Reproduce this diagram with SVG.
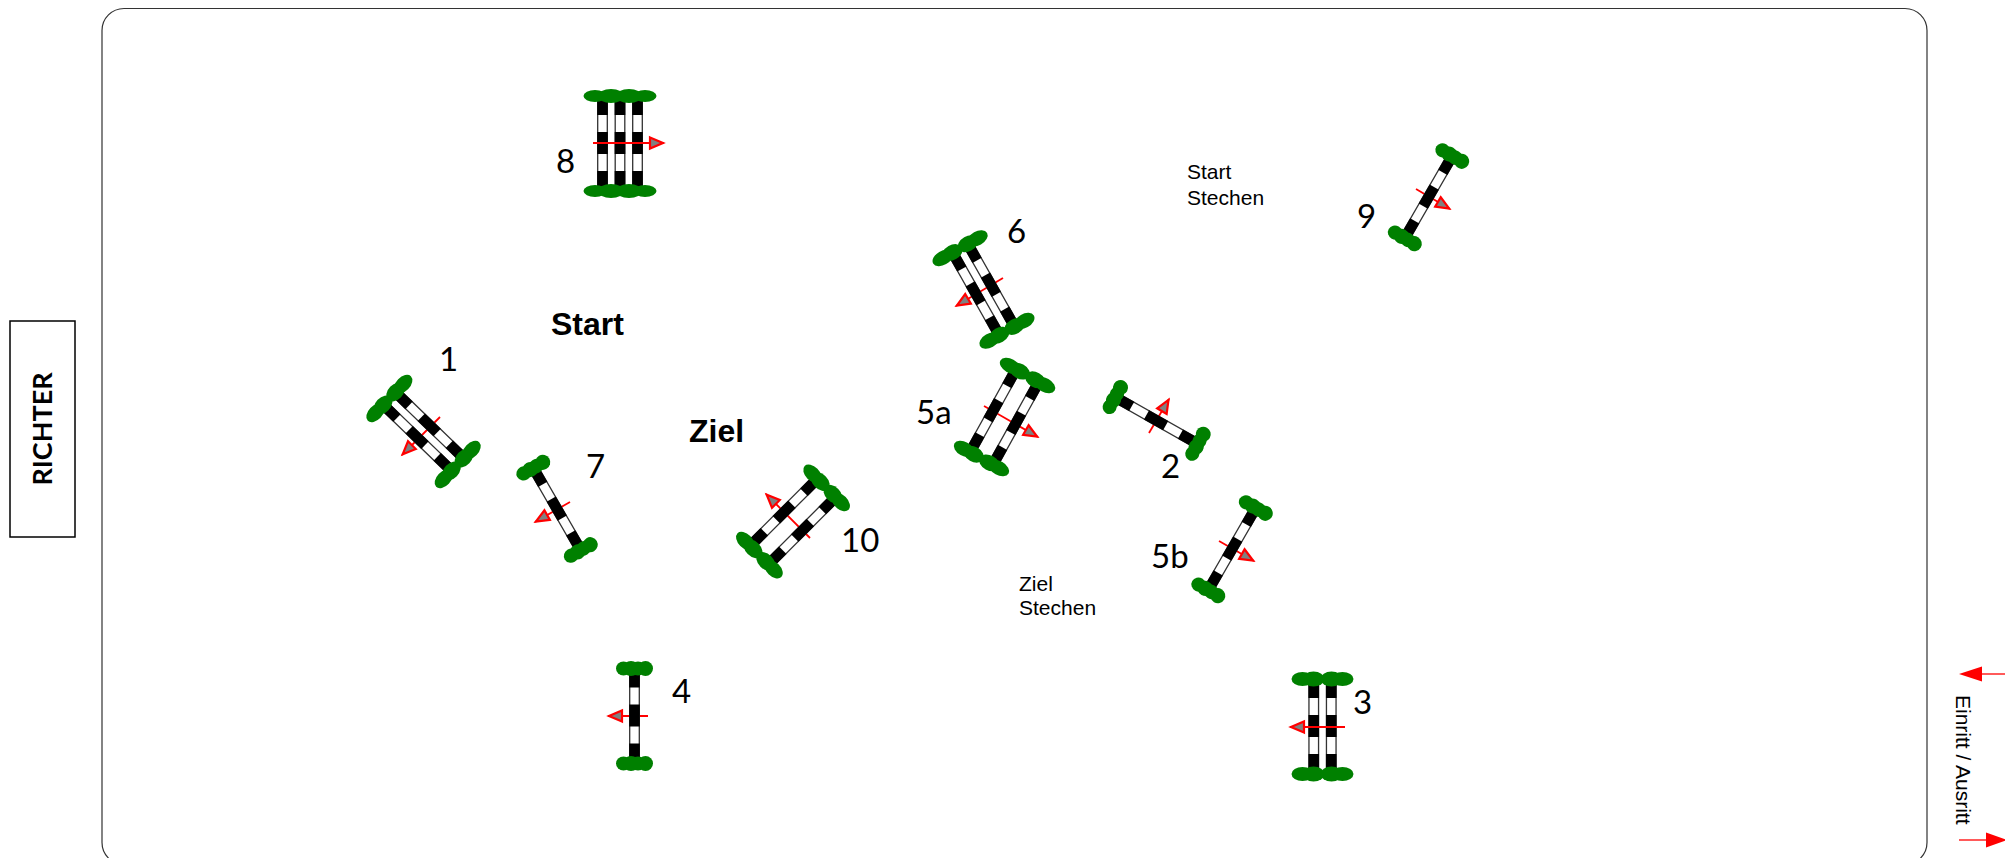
<svg xmlns="http://www.w3.org/2000/svg" width="2005" height="858" viewBox="0 0 2005 858">
<style>
.num{font-family:Lato,"Open Sans",sans-serif;font-size:33px;fill:#000}
.big{font-family:"Liberation Sans",Arial,sans-serif;font-size:32px;font-weight:bold;fill:#000}
.small{font-family:"Liberation Sans",Arial,sans-serif;font-size:21px;fill:#000}
.arrow{fill:none;stroke:#f00;stroke-width:1.800;marker-end:url(#head)}
.exit{fill:none;stroke:#f00;stroke-width:1.300}
</style>
<defs>
<marker id="head" markerUnits="userSpaceOnUse" markerWidth="20" markerHeight="18" refX="16" refY="8" orient="auto" viewBox="0 0 20 16">
<path d="M2 2.500L15 8L2 13.500Z" fill="#808080" stroke="#f00" stroke-width="2.200"/>
</marker>
<g id="pole">
<rect x="-4.800" y="-43.500" width="9.600" height="87" fill="#fff" stroke="#333" stroke-width="1.300"/>
<rect x="-5.300" y="-43.500" width="10.600" height="15"/>
<rect x="-5.300" y="-11.500" width="10.600" height="22"/>
<rect x="-5.300" y="27.500" width="10.600" height="16"/>
</g>
<g id="g1" fill="#008000">
<ellipse cx="-11" cy="0" rx="7.500" ry="7"/><ellipse cx="-3.500" cy="0" rx="8" ry="7.500"/><ellipse cx="3.500" cy="0" rx="8" ry="7"/><ellipse cx="11" cy="0" rx="7.500" ry="7.500"/>
</g>
<g id="g2" fill="#008000">
<ellipse cx="-20" cy="0" rx="11" ry="7"/><ellipse cx="-9" cy="0" rx="11" ry="7.500"/><ellipse cx="9" cy="0" rx="11" ry="7.500"/><ellipse cx="20" cy="0" rx="11" ry="7"/>
</g>
<g id="g3" fill="#008000">
<ellipse cx="-25" cy="0" rx="11.500" ry="6"/><ellipse cx="-9" cy="0" rx="13" ry="7"/><ellipse cx="9" cy="0" rx="13" ry="7"/><ellipse cx="25" cy="0" rx="11.500" ry="6"/>
</g>
<g id="j1"><use href="#pole"/><use href="#g1" y="-47.500"/><use href="#g1" y="47.500"/></g>
<g id="j2"><use href="#pole" x="-8.750"/><use href="#pole" x="8.750"/><use href="#g2" y="-47.500"/><use href="#g2" y="47.500"/></g>
<g id="j2w"><use href="#pole" x="-13"/><use href="#pole" x="13"/><use href="#g2" y="-47.500"/><use href="#g2" y="47.500"/></g>
<g id="j3"><use href="#pole" x="-17.500"/><use href="#pole"/><use href="#pole" x="17.500"/><use href="#g3" y="-47.500"/><use href="#g3" y="47.500"/></g>
</defs>
<rect width="2005" height="858" fill="#fff"/>
<g id="arena"><rect x="102" y="8.500" width="1825" height="856" rx="22" ry="22" fill="#fff" stroke="#333" stroke-width="1.200"/></g>
<g id="richter"><rect x="10" y="321" width="65" height="216" fill="#fff" stroke="#000" stroke-width="1.500"/>
<text transform="translate(52,429) rotate(-90)" text-anchor="middle" font-family="Lato,'Open Sans',sans-serif" font-size="27" font-weight="bold">RICHTER</text></g>
<g id="jump-8"><use href="#j3" transform="translate(620,143.500)"/><text class="num" x="556" y="173">8</text></g>
<g id="jump-3"><use href="#j2" transform="translate(1322.500,726.500)"/><text class="num" x="1353" y="714">3</text></g>
<g id="connectors">
<path class="arrow" d="M593 143H664"/>
<path class="arrow" d="M1345 727H1290"/>
<path class="arrow" d="M648 716H608"/>
<path class="arrow" d="M440 417L402 455"/>
<path class="arrow" d="M570 502L535 522"/>
<path class="arrow" d="M1003 278L956 306"/>
<path class="arrow" d="M984 406L1038 437"/>
<path class="arrow" d="M1149 433L1169 399"/>
<path class="arrow" d="M1416 189L1450 209"/>
<path class="arrow" d="M1219 541L1254 561"/>
<path class="arrow" d="M810 538L766 494"/>
<path class="exit" d="M2005 674H1980"/><path d="M1959 674L1982 666.500V681.500Z" fill="#f00"/>
<path class="exit" d="M1959 840H1988"/><path d="M1986 832.500L2007 840L1986 847.500Z" fill="#f00"/>
</g>
<g id="jump-1"><use href="#j2" transform="translate(423.500,431.500) rotate(-46)"/><text class="num" x="439" y="371">1</text></g>
<g id="jump-7"><use href="#j1" transform="translate(557,509) rotate(-30)"/><text class="num" x="586" y="478">7</text></g>
<g id="jump-4"><use href="#j1" transform="translate(634.500,716)"/><text class="num" x="672" y="703">4</text></g>
<g id="jump-6"><use href="#j2" transform="translate(983.500,289.500) rotate(-29.500)"/><text class="num" x="1007" y="243">6</text></g>
<g id="jump-5a"><use href="#j2w" transform="translate(1004.500,417) rotate(29)"/><text class="num" x="916" y="424">5a</text></g>
<g id="jump-2"><use href="#j1" transform="translate(1156.500,420.500) rotate(-60.500)"/><text class="num" x="1161" y="478">2</text></g>
<g id="jump-9"><use href="#j1" transform="translate(1428.500,197) rotate(30)"/><text class="num" x="1357" y="228">9</text></g>
<g id="jump-5b"><use href="#j1" transform="translate(1232,549) rotate(30)"/><text class="num" x="1151" y="568">5b</text></g>
<g id="jump-10"><use href="#j2w" transform="translate(793,521.500) rotate(45)"/><text class="num" x="841" y="552">10</text></g>
<g id="labels">
<text class="big" x="551" y="335">Start</text>
<text class="big" x="689" y="442">Ziel</text>
<text class="small" x="1187" y="179">Start</text>
<text class="small" x="1187" y="205">Stechen</text>
<text class="small" x="1019" y="591">Ziel</text>
<text class="small" x="1019" y="615">Stechen</text>
<text class="small" transform="translate(1956,695) rotate(90)">Einritt / Ausritt</text>
</g>
</svg>
